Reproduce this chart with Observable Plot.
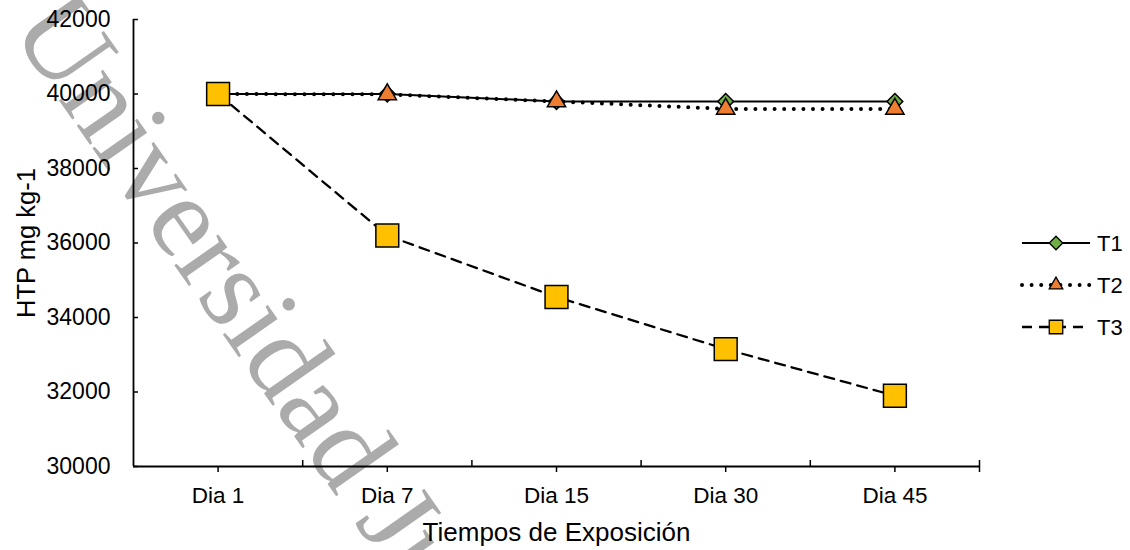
<!DOCTYPE html>
<html><head><meta charset="utf-8">
<script src="https://cdn.jsdelivr.net/npm/d3@7"></script>
<script src="https://cdn.jsdelivr.net/npm/@observablehq/plot@0.6"></script>
<style>
html,body{margin:0;padding:0;background:#fff;overflow:hidden;}
#wrap{position:relative;width:1130px;height:550px;overflow:hidden;font-family:"Liberation Sans",Arial,sans-serif;}
#wm{position:absolute;left:0;top:0;}
#chart{position:absolute;left:0;top:0;}
#legend{position:absolute;left:1015px;top:225px;}
</style></head><body>
<div id="wrap">
<svg id="wm" width="1130" height="550"><text x="9" y="29" transform="rotate(55 9 29)" font-family="'Liberation Serif','Times New Roman',serif" font-size="117" fill="#ababab">Universidad Juárez</text></svg>
<div id="chart"></div>
<div id="legend"></div>
</div>
<script>
const categories = ["Dia 1", "Dia 7", "Dia 15", "Dia 30", "Dia 45"];
const t1 = [40000, 40000, 39800, 39800, 39800];
const t2 = [40000, 39990, 39800, 39600, 39600];
const t3 = [40000, 36200, 34550, 33150, 31900];
const seriesNames = ["T1", "T2", "T3"];
const yTicks = [30000, 32000, 34000, 36000, 38000, 40000, 42000];
const xTitle = "Tiempos de Exposición";
const yTitle = "HTP mg kg-1";

const table = [t1, t2, t3].flatMap((vals, s) =>
  vals.map((v, i) => ({series: seriesNames[s], pos: i + 1, cat: categories[i], value: v})));
const pos = categories.map((_, i) => i + 1);
const bounds = categories.map((_, i) => i + 1.5);

const styles = {
  T1: {line: {stroke: "black", strokeWidth: 2}, symbol: "diamond2", r: 7.1, fill: "#70AD47", legendSize: 116},
  T2: {line: {stroke: "black", strokeWidth: 4, strokeDasharray: "0 9.6", strokeLinecap: "round"}, symbol: "triangle", r: 6.8, fill: "#ED7D31", legendSize: 80},
  T3: {line: {stroke: "black", strokeWidth: 2.3, strokeDasharray: "10 7"}, symbol: "square", r: 12.9, fill: "#FFC000", legendSize: 182}
};

const seriesMarks = seriesNames.flatMap(name => {
  const st = styles[name];
  const data = table.filter(d => d.series === name);
  return [
    Plot.line(data, {x: "pos", y: "value", ...st.line}),
    Plot.dot(data, {x: "pos", y: "value", symbol: st.symbol, r: st.r, fill: st.fill, stroke: "black", strokeWidth: 1.5})
  ];
});

const chart = Plot.plot({
  width: 1130, height: 550,
  marginLeft: 133, marginRight: 151, marginTop: 19, marginBottom: 84,
  style: {background: "transparent", fontFamily: "'Liberation Sans', Arial, sans-serif", fontSize: "22px", color: "black", overflow: "visible"},
  x: {type: "linear", domain: [0.5, categories.length + 0.5]},
  y: {domain: [yTicks[0], yTicks[yTicks.length - 1]]},
  marks: [
    Plot.axisY({ticks: yTicks, tickSize: 0, tickPadding: 23, tickFormat: d => String(d), label: null, fontSize: 23}),
    Plot.axisY({ticks: yTicks, tickSize: 5, dx: 5, tickFormat: () => "", label: null, strokeWidth: 1.5}),
    Plot.axisX({ticks: pos, tickSize: 6, tickPadding: 15, tickFormat: d => categories[d - 1], label: null, fontSize: 22.5, strokeWidth: 1.5}),
    Plot.axisX({ticks: bounds, tickSize: 6, dy: -6, tickFormat: () => "", label: null, strokeWidth: 1.5}),
    Plot.axisX({ticks: [categories.length + 0.5], tickSize: 6, tickFormat: () => "", label: null, strokeWidth: 1.5}),
    Plot.ruleX([0.5], {stroke: "black", strokeWidth: 1.8}),
    Plot.ruleY([yTicks[0]], {stroke: "black", strokeWidth: 1.8}),
    Plot.text([yTitle], {text: d => d, frameAnchor: "left", textAnchor: "middle", lineAnchor: "middle", rotate: -90, dx: -107, fontSize: 25.5, fill: "black"}),
    Plot.text([xTitle], {text: d => d, frameAnchor: "bottom", textAnchor: "middle", lineAnchor: "bottom", dy: 74, fontSize: 26, fill: "black"}),
    ...seriesMarks
  ]
});
document.getElementById("chart").appendChild(chart);

// legend
const symbolTypes = {diamond2: d3.symbolDiamond2, triangle: d3.symbolTriangle, square: d3.symbolSquare};
const lg = d3.select("#legend").append("svg").attr("width", 115).attr("height", 125)
  .style("font-family", "'Liberation Sans', Arial, sans-serif");
seriesNames.forEach((name, i) => {
  const st = styles[name];
  const y = 18 + i * 42;
  const g = lg.append("g").attr("transform", `translate(0,${y})`);
  const ln = g.append("line").attr("x1", 7).attr("x2", 75).attr("y1", 0).attr("y2", 0)
    .attr("stroke", st.line.stroke).attr("stroke-width", st.line.strokeWidth);
  if (st.line.strokeDasharray) ln.attr("stroke-dasharray", st.line.strokeDasharray);
  if (st.line.strokeLinecap) ln.attr("stroke-linecap", st.line.strokeLinecap);
  g.append("path").attr("transform", "translate(41,0)")
    .attr("d", d3.symbol(symbolTypes[st.symbol], st.legendSize)())
    .attr("fill", st.fill).attr("stroke", "black").attr("stroke-width", 1.3);
  g.append("text").attr("x", 82).attr("y", 0).attr("dy", "0.35em").attr("font-size", 22).attr("fill", "black").text(name);
});
</script>
</body></html>
